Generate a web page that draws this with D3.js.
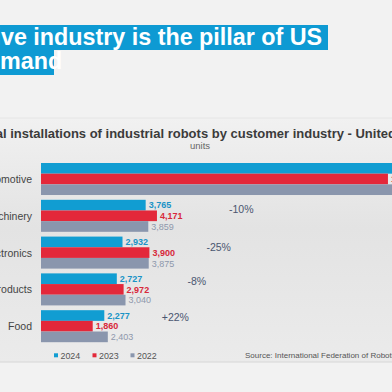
<!DOCTYPE html>
<html><head><meta charset="utf-8">
<script src="https://cdn.jsdelivr.net/npm/d3@7"></script>
<style>html,body{margin:0;padding:0;background:#f2f2f2;overflow:hidden}svg{display:block}</style>
</head><body>
<script>
const categories = ["Automotive", "Machinery", "Electronics", "Plastic & chemical products", "Food"];
const years = ["2024", "2023", "2022"];
const values2024 = [13700, 3765, 2932, 2727, 2277];
const values2023 = [12480, 4171, 3900, 2972, 1860];
const values2022 = [14500, 3859, 3875, 3040, 2403];
const changeLabels = [null, "-10%", "-25%", "-8%", "+22%"];
const titleLines = ["Automotive industry is the pillar of US", "demand"];
const subtitle = "Annual installations of industrial robots by customer industry - United States";
const unitLabel = "units";
const sourceText = "Source: International Federation of Robotics";

const W = 392, H = 392;
const FONT = "'Liberation Sans', Arial, sans-serif";
const colors = {"2024": "#119dd2", "2023": "#e3283a", "2022": "#8a96ad"};
const labelColors = {"2024": "#1a93c6", "2023": "#d8283a", "2022": "#8e98ac"};
const series = {"2024": values2024, "2023": values2023, "2022": values2022};

const svg = d3.select("body").append("svg").attr("width", W).attr("height", H)
  .style("font-family", FONT);

const defs = svg.append("defs");
const grad = defs.append("linearGradient").attr("id", "bg").attr("x1", 0).attr("y1", 0).attr("x2", 0).attr("y2", 1);
grad.append("stop").attr("offset", "0%").attr("stop-color", "#f1f1f1");
grad.append("stop").attr("offset", "45%").attr("stop-color", "#e3e3e3");
grad.append("stop").attr("offset", "100%").attr("stop-color", "#ebebeb");

svg.append("rect").attr("width", W).attr("height", H).attr("fill", "#f2f2f2");
svg.append("rect").attr("x", 0).attr("y", 118).attr("width", W).attr("height", 244).attr("fill", "url(#bg)");
svg.append("line").attr("x1", 0).attr("x2", W).attr("y1", 118).attr("y2", 118).attr("stroke", "#e6e6e6");
svg.append("line").attr("x1", 0).attr("x2", W).attr("y1", 362).attr("y2", 362).attr("stroke", "#d6d6d6");

function measure(txt, size, weight) {
  const t = svg.append("text").attr("font-size", size).attr("font-weight", weight).text(txt);
  const w = t.node().getComputedTextLength();
  t.remove();
  return w;
}

// Title with blue highlight
const tSize = 23.3;
svg.append("rect").attr("x", 0).attr("y", 25).attr("width", 328).attr("height", 25).attr("fill", "#0e9ad3");
svg.append("rect").attr("x", 0).attr("y", 50).attr("width", 54).attr("height", 25).attr("fill", "#0e9ad3");
const off1 = measure("Automoti", tSize, "bold");
svg.append("text").attr("x", 1 - off1).attr("y", 45).attr("font-size", tSize).attr("font-weight", "bold")
  .attr("fill", "#fff").text(titleLines[0]);
const off2 = measure("de", tSize, "bold");
svg.append("text").attr("x", 0 - off2).attr("y", 69).attr("font-size", tSize).attr("font-weight", "bold")
  .attr("fill", "#fff").text(titleLines[1]);

// Subtitle
const sSize = 13;
const offS = measure("Annua", sSize, "bold");
svg.append("text").attr("x", 3 - offS).attr("y", 138).attr("font-size", sSize).attr("font-weight", "bold")
  .attr("fill", "#3b3b3b").text(subtitle);
svg.append("text").attr("x", 190).attr("y", 149).attr("font-size", 9.5).attr("fill", "#666").text(unitLabel);

// Scales
const x = d3.scaleLinear().domain([0, 10000]).range([41, 319]);
const y = d3.scaleBand().domain(categories).range([163, 342.2]).paddingInner(0.13).paddingOuter(0);
const yi = d3.scaleBand().domain(years).range([0, y.bandwidth()]).padding(0);

// Category labels
svg.append("g").selectAll("text").data(categories).join("text")
  .attr("x", 32).attr("y", d => y(d) + y.bandwidth() / 2 + 4)
  .attr("text-anchor", "end").attr("font-size", 10.5).attr("fill", "#444").text(d => d);

// Bars
const rows = [];
categories.forEach((c, i) => years.forEach(yr => rows.push({c, yr, v: series[yr][i]})));
const gBars = svg.append("g");
gBars.selectAll("rect").data(rows).join("rect")
  .attr("x", x(0)).attr("y", d => y(d.c) + yi(d.yr))
  .attr("width", d => x(d.v) - x(0)).attr("height", yi.bandwidth())
  .attr("fill", d => colors[d.yr]);

// Value labels
gBars.selectAll("text").data(rows).join("text")
  .attr("x", d => x(d.v) + 3).attr("y", d => y(d.c) + yi(d.yr) + yi.bandwidth() / 2 + 3.3)
  .attr("font-size", 9).attr("font-weight", d => d.yr === "2022" ? "normal" : "bold")
  .attr("fill", d => labelColors[d.yr]).text(d => d3.format(",")(d.v));

// Change labels
const changeOffsets = [0, 72, 57, 62, 54];
const changeDy = [0, 13, 14, 12, 11];
svg.append("g").selectAll("text").data(categories.map((c, i) => ({c, i, t: changeLabels[i]})).filter(d => d.t))
  .join("text")
  .attr("x", d => x(Math.max(values2024[d.i], values2023[d.i], values2022[d.i])) + changeOffsets[d.i])
  .attr("y", d => y(d.c) + changeDy[d.i])
  .attr("font-size", 10.5).attr("fill", "#4a5670").text(d => d.t);

// Legend
const leg = svg.append("g");
const legX = [54, 92.5, 130.5];
years.forEach((yr, i) => {
  leg.append("rect").attr("x", legX[i]).attr("y", 353.3).attr("width", 4).attr("height", 4).attr("fill", colors[yr]);
  leg.append("text").attr("x", legX[i] + 6.5).attr("y", 358.8).attr("font-size", 8.9).attr("fill", "#555").text(yr);
});

svg.append("text").attr("x", 245).attr("y", 358.3).attr("font-size", 8).attr("fill", "#555").text(sourceText);
</script>
</body></html>
